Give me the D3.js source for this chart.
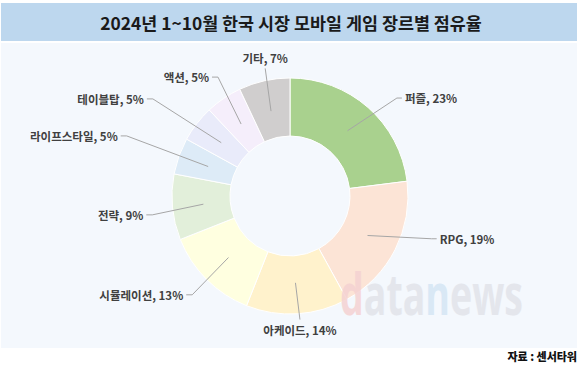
<!DOCTYPE html>
<html><head><meta charset="utf-8">
<script src="https://cdn.jsdelivr.net/npm/d3@7"></script>
<style>
html,body{margin:0;padding:0;background:#fff;}
svg{display:block;}
</style></head>
<body>
<svg id="chart" width="580" height="370"></svg>
<script>
// ---- data ----
const title = "2024년 1~10월 한국 시장 모바일 게임 장르별 점유율";
const genres = ["퍼즐", "RPG", "아케이드", "시뮬레이션", "전략", "라이프스타일", "테이블탑", "액션", "기타"];
const shares = [23, 19, 14, 13, 9, 5, 5, 5, 7];
const source = "자료 : 센서타워";

// ---- styles / layout ----
const colors = ["#a9d18e", "#fce4d6", "#fff2cc", "#ffffe0", "#e2efda", "#ddebf7", "#e9ebfa", "#f5eefb", "#d0cece"];
// label elbow placement (radius, angle shift in degrees) and side
const labelR = [145, 148, 124, 139, 139, 174, 168, 139, 130];
const labelShift = [6.1, -10.2, -1, -0.3, -2.4, 0.4, -2.5, 3, 1.6];
const labelSide = ["right", "right", "bottom", "left", "left", "left", "left", "left", "top"];
const watermarkParts = ["d", "ata", "n", "ews"];
const watermarkColors = ["#f4d2d2", "#e2e4ea", "#d5e6f4", "#e2e4ea"];

const W = 580, H = 370;
const cx = 290, cy = 196, rOuter = 118, rInner = 60, rStart = 87;
const svg = d3.select("#chart");
const font = "'Noto Sans CJK KR', 'Noto Sans', sans-serif";

// backgrounds
svg.append("rect").attr("x", 1).attr("y", 3).attr("width", 576).attr("height", 38).attr("fill", "#bdd7ee");
svg.append("rect").attr("x", 1).attr("y", 43).attr("width", 576).attr("height", 305).attr("fill", "#f4f8fd");

svg.append("text").attr("x", 291).attr("y", 22).attr("text-anchor", "middle")
  .attr("dominant-baseline", "central")
  .attr("font-family", font).attr("font-weight", 700).attr("font-size", 17.4)
  .attr("fill", "#1a1a1a").text(title);

const data = genres.map((g, i) => ({genre: g, value: shares[i], i}));
const pie = d3.pie().value(d => d.value).sort(null);
const arcs = pie(data);
const arc = d3.arc().innerRadius(rInner).outerRadius(rOuter);

const g = svg.append("g").attr("transform", `translate(${cx},${cy})`);
g.selectAll("path.slice").data(arcs).join("path")
  .attr("class", "slice")
  .attr("d", arc)
  .attr("fill", d => colors[d.data.i])
  .attr("stroke", "#ffffff").attr("stroke-width", 1);

// watermark: separate pieces, horizontally fitted to the target width
const wmG = svg.append("g").attr("opacity", 0.85);
const wmInner = wmG.append("g");
let off = 0;
watermarkParts.forEach((t, i) => {
  const el = wmInner.append("text").attr("x", off).attr("y", 0)
    .attr("font-family", "'Open Sans', 'Liberation Sans', sans-serif").attr("font-weight", 700)
    .attr("font-size", 58).attr("fill", watermarkColors[i]).text(t);
  off += el.node().getComputedTextLength();
});
const sx = 183 / off;
wmG.attr("transform", `translate(340,315) scale(${sx},1)`);

// labels with leader lines
const pol = (r, a) => [r * Math.sin(a), -r * Math.cos(a)];
arcs.forEach((d, k) => {
  const mid = (d.startAngle + d.endAngle) / 2;
  const [sx, sy] = pol(rStart, mid);
  const [ex, ey] = pol(labelR[k], mid + labelShift[k] * Math.PI / 180);
  const side = labelSide[k];
  const txt = `${d.data.genre}, ${d.data.value}%`;
  let pts = [[sx, sy], [ex, ey]];
  let tx, ty, anchor;
  if (side === "right") { pts.push([ex + 5, ey]); tx = ex + 8; ty = ey; anchor = "start"; }
  else if (side === "left") { pts.push([ex - 6, ey]); tx = ex - 9; ty = ey; anchor = "end"; }
  else if (side === "top") { tx = ex; ty = ey - 10; anchor = "middle"; }
  else { tx = ex; ty = ey + 10; anchor = "middle"; }
  g.append("path").attr("d", d3.line()(pts)).attr("fill", "none")
    .attr("stroke", "#a6a6a6").attr("stroke-width", 1);
  g.append("text").attr("x", tx).attr("y", ty).attr("text-anchor", anchor)
    .attr("dominant-baseline", "central")
    .attr("font-family", font).attr("font-weight", 700).attr("font-size", 11.5)
    .attr("fill", "#404040").text(txt);
});

svg.append("text").attr("x", 577).attr("y", 356).attr("text-anchor", "end")
  .attr("dominant-baseline", "central")
  .attr("font-family", font).attr("font-weight", 900).attr("font-size", 11)
  .attr("fill", "#111").text(source);
</script>
</body></html>
